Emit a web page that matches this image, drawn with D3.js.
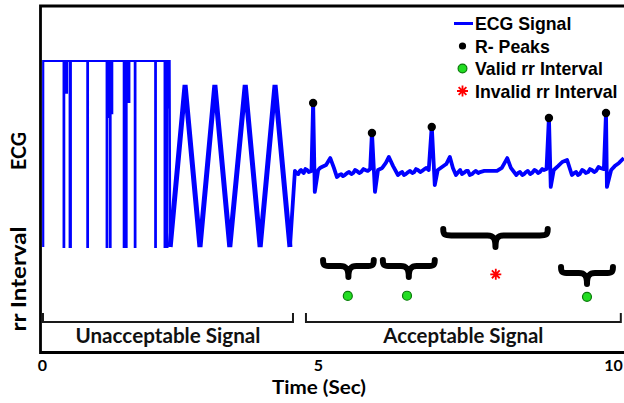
<!DOCTYPE html>
<html><head><meta charset="utf-8">
<script src="https://cdn.jsdelivr.net/npm/d3@7"></script>
<style>html,body{margin:0;padding:0;background:#fff;} svg{display:block}</style>
</head><body>
<svg id="chart" width="624" height="403"></svg>
<script>
// ---------------- DATA ----------------
const xTicks = [0, 5, 10];
const xTickLabels = ["0", "5", "10"];

// unacceptable part 1: clipped square-wave noise (time s, amplitude a.u.)
const noiseT = [0.04,0.04, 0.41,0.41,0.42,0.42, 0.46,0.46,0.47,0.47, 0.52,0.52,0.54,0.54,
  0.84,0.84,0.85,0.85, 1.19,1.19,1.20,1.20, 1.22,1.22,1.23,1.23, 1.25,1.25,1.26,1.26,
  1.28,1.28,1.29,1.29, 1.50,1.50,1.51,1.51, 1.54,1.54,1.55,1.55, 1.59,1.59,1.60,1.60,
  1.70,1.70,1.71,1.71, 2.07,2.07,2.08,2.08, 2.24,2.24,2.25,2.25, 2.28,2.28,2.29,2.29,
  2.31,2.31,2.32,2.32, 2.33,2.34];
const noiseV = [0,1, 1,0,0,1, 1,0.83,0.83,1, 1,0,0,1,
  1,0,0,1, 1,0,0,1, 1,0.70,0.70,1, 1,0,0,1,
  1,0.72,0.72,1, 1,0,0,1, 1,0,0,1, 1,0.78,0.78,1,
  1,0,0,1, 1,0,0,1, 1,0,0,1, 1,0,0,1,
  1,0.75,0.75,1, 1,0];

// unacceptable part 2: triangle artefact
const triT = [2.34, 2.61, 2.88, 3.15, 3.42, 3.70, 3.97, 4.24, 4.51];
const triV = [0, 0.871, 0, 0.871, 0, 0.871, 0, 0.871, 0];

// acceptable ECG
const ecgT = [4.51,4.60,4.63,4.66,4.69,4.71,4.74,4.76,4.79,4.82,4.85,4.90,4.93,4.96,5.02,5.05,5.08,5.15,5.22,5.28,5.33,5.37,5.40,5.43,5.46,5.50,5.53,5.57,5.60,5.63,5.66,5.70,5.73,5.77,5.80,5.84,5.88,
  5.91,5.96,6.01,6.08,6.14,6.19,6.26,6.34,6.38,6.41,6.44,6.47,6.51,6.54,6.58,6.61,6.64,6.67,6.71,6.74,6.78,6.81,6.85,
  6.90,6.95,7.00,7.07,7.14,7.20,7.25,7.30,7.34,7.37,7.40,7.43,7.47,7.50,7.53,7.57,7.60,7.63,7.67,7.70,7.77,7.86,7.98,8.06,8.15,8.21,8.30,8.33,8.36,8.40,8.43,8.46,8.49,8.53,8.56,8.60,8.63,8.66,8.69,8.73,8.76,8.80,
  8.84,8.87,8.92,8.99,9.06,9.14,9.22,9.26,9.29,9.32,9.35,9.39,9.42,9.45,9.49,9.52,9.55,9.59,9.62,9.66,9.69,9.75,
  9.785,9.80,9.87,9.93,10.00,10.08];
const ecgV = [0,0.409,0.398,0.392,0.409,0.414,0.403,0.398,0.419,0.414,0.403,0.409,0.780,0.296,0.414,0.425,0.430,0.441,0.478,0.425,0.376,0.387,0.392,0.381,0.387,0.398,0.403,0.392,0.398,0.414,0.409,0.398,0.403,0.419,0.414,0.409,0.419,
  0.618,0.296,0.414,0.425,0.452,0.484,0.435,0.387,0.398,0.403,0.387,0.392,0.403,0.409,0.398,0.403,0.419,0.414,0.403,0.409,0.419,0.425,0.414,
  0.651,0.333,0.414,0.430,0.446,0.484,0.425,0.387,0.403,0.414,0.392,0.398,0.409,0.409,0.387,0.392,0.403,0.409,0.398,0.403,0.409,0.409,0.409,0.425,0.478,0.425,0.387,0.398,0.403,0.387,0.392,0.403,0.409,0.392,0.398,0.414,0.409,0.398,0.403,0.419,0.414,0.419,
  0.699,0.323,0.414,0.435,0.457,0.468,0.387,0.398,0.403,0.387,0.392,0.414,0.409,0.398,0.403,0.419,0.414,0.403,0.409,0.430,0.425,0.419,
  0.726,0.323,0.414,0.435,0.452,0.478];

// R-peaks
const peakT = [4.93, 5.91, 6.90, 8.84, 9.785];
const peakV = [0.780, 0.618, 0.651, 0.699, 0.726];

// rr intervals (s) at interval midpoints
const rrT = [5.51, 6.49, 7.96, 9.47];
const rrV = [0.98, 0.99, 1.94, 0.94];
const rrValid = [true, true, false, true];

// braces marking each rr interval
const braceStart = [5.10, 6.09, 7.09, 9.04];
const braceEnd   = [5.94, 6.95, 8.82, 9.90];
const braceLevel = [2.58, 2.58, 3.96, 2.27];

// signal quality segments
const segNames = ["Unacceptable Signal", "Acceptable Signal"];
const segStart = [0.036, 4.80];
const segEnd   = [4.565, 10.03];

const legendLabels = ["ECG Signal", "R- Peaks", "Valid rr Interval", "Invalid rr Interval"];

// ---------------- DRAW ----------------
const svg = d3.select("#chart");
const x = d3.scaleLinear().domain([0, 5, 10]).range([41, 317, 619]);
const yE = d3.scaleLinear().domain([0, 1]).range([247, 61]);
const yR = d3.scaleLinear().domain([0, 2]).range([318, 273]);

const LBL = "Lato, 'Open Sans', sans-serif";
const LEG = "'Liberation Sans', Arial, sans-serif";

const line = d3.line().x(d => x(d[0])).y(d => yE(d[1]));
const zip = (a, b) => a.map((v, i) => [v, b[i]]);

svg.append("path").datum(zip(noiseT, noiseV)).attr("d", line)
  .attr("fill", "none").attr("stroke", "#0000ff").attr("stroke-width", 2.2);
svg.append("path").datum(zip(triT, triV)).attr("d", line)
  .attr("fill", "none").attr("stroke", "#0000ff").attr("stroke-width", 5);
svg.append("path").datum(zip(ecgT, ecgV)).attr("d", line)
  .attr("fill", "none").attr("stroke", "#0000ff").attr("stroke-width", 3.8)
  .attr("stroke-linejoin", "round");

// R peaks
svg.append("g").selectAll("circle").data(zip(peakT, peakV)).join("circle")
  .attr("cx", d => x(d[0])).attr("cy", d => yE(d[1]) + 1).attr("r", 4.2).attr("fill", "#000");

// braces
function bracePath(x1, x2, y0, h) {
  const m = (x1 + x2) / 2, ya = y0 + h * 0.36, yt = y0 + h, r = 8;
  return `M${x1},${y0} C${x1},${ya} ${x1+2},${ya} ${x1+r},${ya} L${m-r},${ya} ` +
    `C${m-2},${ya} ${m},${ya+3} ${m},${yt} C${m},${ya+3} ${m+2},${ya} ${m+r},${ya} ` +
    `L${x2-r},${ya} C${x2-2},${ya} ${x2},${ya} ${x2},${y0}`;
}
svg.append("g").selectAll("path").data(braceStart.map((s, i) => [s, braceEnd[i], braceLevel[i]])).join("path")
  .attr("d", d => bracePath(x(d[0]), x(d[1]), yR(d[2]), d[2] > 3 ? 18 : 17))
  .attr("fill", "none").attr("stroke", "#000").attr("stroke-width", 6)
  .attr("stroke-linecap", "round").attr("stroke-linejoin", "round");

// rr markers
function star(g, cx, cy, r) {
  const a = r * Math.SQRT1_2;
  g.append("path")
    .attr("d", `M${cx-r},${cy}L${cx+r},${cy}M${cx},${cy-r}L${cx},${cy+r}M${cx-a},${cy-a}L${cx+a},${cy+a}M${cx-a},${cy+a}L${cx+a},${cy-a}`)
    .attr("stroke", "#ff0000").attr("stroke-width", 1.8).attr("fill", "none");
}
const rrG = svg.append("g");
rrT.forEach((t, i) => {
  if (rrValid[i]) {
    rrG.append("circle").attr("cx", x(t)).attr("cy", yR(rrV[i])).attr("r", 4.5)
      .attr("fill", "#22dd22").attr("stroke", "#0a7a0a").attr("stroke-width", 1.2);
  } else {
    star(rrG, x(t), yR(rrV[i]), 5.5);
  }
});

// segment brackets
const segG = svg.append("g");
segNames.forEach((n, i) => {
  const a = x(segStart[i]), b = x(segEnd[i]);
  segG.append("path").attr("d", `M${a},313 L${a},322 L${b},322 L${b},313`)
    .attr("fill", "none").attr("stroke", "#1a1a1a").attr("stroke-width", 2);
  segG.append("text").attr("x", (a + b) / 2).attr("y", 343).attr("text-anchor", "middle")
    .attr("font-family", LBL).attr("font-weight", 700).attr("font-size", 20)
    .attr("textLength", i === 0 ? 185 : 160).attr("lengthAdjust", "spacingAndGlyphs")
    .attr("fill", "#111").text(n);
});

// frame
svg.append("path").attr("d", "M626,6 L40.5,6 L40.5,352.5 L626,352.5")
  .attr("fill", "none").attr("stroke", "#000").attr("stroke-width", 2.8);

// x axis ticks
const ax = svg.append("g").attr("transform", "translate(0,352.5)")
  .call(d3.axisBottom(x).tickValues(xTicks).tickSize(0).tickPadding(7)
    .tickFormat((d, i) => xTickLabels[i]));
ax.select(".domain").remove();
ax.selectAll("text").attr("font-family", LBL).attr("font-weight", 700)
  .attr("font-size", 16).attr("fill", "#000")
  .attr("dx", (d, i) => i === xTicks.length - 1 ? -6 : 1);

// axis titles
svg.append("text").attr("x", 319).attr("y", 394).attr("text-anchor", "middle")
  .attr("font-family", LBL).attr("font-weight", 700).attr("font-size", 19)
  .attr("textLength", 94).attr("lengthAdjust", "spacingAndGlyphs").attr("fill", "#000").text("Time (Sec)");
[["ECG", 151, 38], ["rr Interval", 279, 105]].forEach(([t, cy, len]) => {
  svg.append("text").attr("transform", `translate(25.5,${cy}) rotate(-90)`)
    .attr("text-anchor", "middle").attr("font-family", LBL).attr("font-weight", 700)
    .attr("font-size", 21).attr("textLength", len).attr("lengthAdjust", "spacingAndGlyphs")
    .attr("fill", "#000").text(t);
});

// legend
const lg = svg.append("g");
const rowY = [23.5, 46, 68.5, 91];
lg.append("line").attr("x1", 454).attr("x2", 473).attr("y1", rowY[0]).attr("y2", rowY[0])
  .attr("stroke", "#0000ff").attr("stroke-width", 3);
lg.append("circle").attr("cx", 462.5).attr("cy", rowY[1]).attr("r", 3.6).attr("fill", "#000");
lg.append("circle").attr("cx", 462.5).attr("cy", rowY[2]).attr("r", 4.4)
  .attr("fill", "#22dd22").attr("stroke", "#0a7a0a").attr("stroke-width", 1.2);
star(lg, 462.5, rowY[3], 5.5);
legendLabels.forEach((t, i) => {
  lg.append("text").attr("x", 475).attr("y", rowY[i] + 6.5)
    .attr("font-family", LEG).attr("font-weight", 700).attr("font-size", 17.7)
    .attr("fill", "#000").text(t);
});
</script>
</body></html>
